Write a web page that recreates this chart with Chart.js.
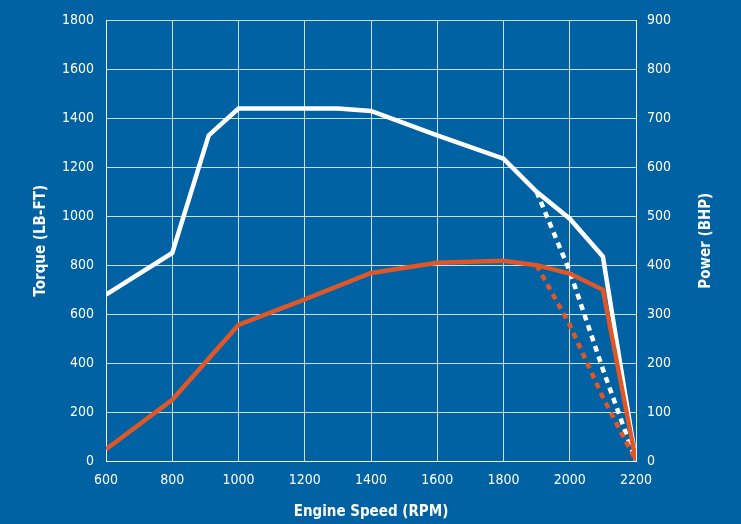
<!DOCTYPE html>
<html>
<head>
<meta charset="utf-8">
<script src="https://cdn.jsdelivr.net/npm/chart.js@4"></script>
<style>
  html, body { margin: 0; padding: 0; background: #0062a2; }
  #wrap { width: 741px; height: 524px; }
</style>
</head>
<body>
<div id="wrap"><canvas id="c" width="741" height="524"></canvas></div>
<script>
// ---- data ----
const torqueRpm = [600, 800, 910, 1000, 1300, 1400, 1600, 1800, 1900, 2000, 2100, 2200];
const torque    = [680, 850, 1330, 1440, 1440, 1430, 1330, 1235, 1100, 990, 835, 0];
const torqueDashRpm = [1900, 2000, 2100, 2200];
const torqueDash    = [1100, 775, 375, 0];
const powerRpm = [600, 800, 1000, 1200, 1400, 1600, 1800, 1900, 2000, 2100, 2200];
const power    = [24, 125, 278, 330, 384, 405, 409, 400, 383, 350, 0];
const powerDashRpm = [1900, 2000, 2100, 2200];
const powerDash    = [400, 278, 130, 0];
const xTicks = { min: 600, max: 2200, step: 200 };
const torqueTicks = { min: 0, max: 1800, step: 200 };
const powerTicks = { min: 0, max: 900, step: 100 };
const xTitle = 'Engine Speed (RPM)';
const torqueTitle = 'Torque (LB-FT)';
const powerTitle = 'Power (BHP)';

const pts = (xs, ys) => xs.map((x, i) => ({ x: x, y: ys[i] }));

const BG = '#0062a2';
const WHITE = '#ffffff';
const ORANGE = '#df5726';
const GRID = 'rgba(255,255,255,0.8)';
const FAM = "'Liberation Sans Narrow', 'DejaVu Sans Condensed', 'Arial Narrow', sans-serif";
const TICK_FONT = { family: FAM, size: 14 };
const TITLE_FONT = { family: FAM, size: 15, weight: 'bold' };

const bgPlugin = {
  id: 'bg',
  beforeDraw(chart) {
    const ctx = chart.ctx;
    ctx.save();
    ctx.fillStyle = BG;
    ctx.fillRect(0, 0, chart.width, chart.height);
    ctx.restore();
  }
};

// right-hand axis title, reading bottom-to-top like the reference
const rightTitlePlugin = {
  id: 'rightTitle',
  afterDraw(chart) {
    const ctx = chart.ctx;
    const a = chart.chartArea;
    ctx.save();
    ctx.translate(706, (a.top + a.bottom) / 2);
    ctx.rotate(-Math.PI / 2);
    ctx.fillStyle = WHITE;
    ctx.font = 'bold ' + TITLE_FONT.size + 'px ' + FAM;
    ctx.textAlign = 'center';
    ctx.textBaseline = 'middle';
    ctx.fillText(powerTitle, 0, 0);
    ctx.restore();
  }
};

const common = { fill: false, tension: 0, pointRadius: 0, borderWidth: 4.5, borderJoinStyle: 'miter', borderCapStyle: 'butt' };
const dashed = { borderWidth: 4.5, borderDash: [6, 5] };

new Chart(document.getElementById('c'), {
  type: 'line',
  data: {
    datasets: [
      Object.assign({ label: 'Torque dashed', data: pts(torqueDashRpm, torqueDash), borderColor: WHITE, yAxisID: 'y', order: 4 }, common, dashed),
      Object.assign({ label: 'Torque', data: pts(torqueRpm, torque), borderColor: WHITE, yAxisID: 'y', order: 3 }, common),
      Object.assign({ label: 'Power dashed', data: pts(powerDashRpm, powerDash), borderColor: ORANGE, yAxisID: 'y1', order: 2 }, common, dashed),
      Object.assign({ label: 'Power', data: pts(powerRpm, power), borderColor: ORANGE, yAxisID: 'y1', order: 1 }, common)
    ]
  },
  options: {
    responsive: false,
    animation: false,
    devicePixelRatio: 1,
    layout: { padding: { top: 20, left: 0, right: 0, bottom: 0 } },
    plugins: { legend: { display: false }, tooltip: { enabled: false } },
    scales: {
      x: {
        type: 'linear',
        min: xTicks.min, max: xTicks.max,
        afterFit(s) { s.height = 63; },
        ticks: { stepSize: xTicks.step, color: WHITE, padding: 11, font: TICK_FONT, callback: v => String(v), maxRotation: 0, autoSkip: false },
        grid: { color: GRID, lineWidth: 1, drawTicks: false },
        border: { display: true, color: GRID, width: 1 },
        title: { display: true, text: xTitle, color: WHITE, font: TITLE_FONT, padding: { top: 0, bottom: 3 } }
      },
      y: {
        position: 'left',
        min: torqueTicks.min, max: torqueTicks.max,
        afterFit(s) { s.width = 106; },
        ticks: { stepSize: torqueTicks.step, color: WHITE, padding: 12, font: TICK_FONT, callback: v => String(v) },
        grid: { color: GRID, lineWidth: 1, drawTicks: false },
        border: { display: true, color: GRID, width: 1 },
        title: { display: true, text: torqueTitle, color: WHITE, font: TITLE_FONT, padding: { top: 32, bottom: 0 } }
      },
      y1: {
        position: 'right',
        min: powerTicks.min, max: powerTicks.max,
        afterFit(s) { s.width = 105; },
        ticks: { stepSize: powerTicks.step, color: WHITE, padding: 11, font: TICK_FONT, callback: v => String(v) },
        grid: { display: false, drawTicks: false },
        border: { display: true, color: GRID, width: 1 },
        title: { display: false }
      }
    }
  },
  plugins: [bgPlugin, rightTitlePlugin]
});
</script>
</body>
</html>
